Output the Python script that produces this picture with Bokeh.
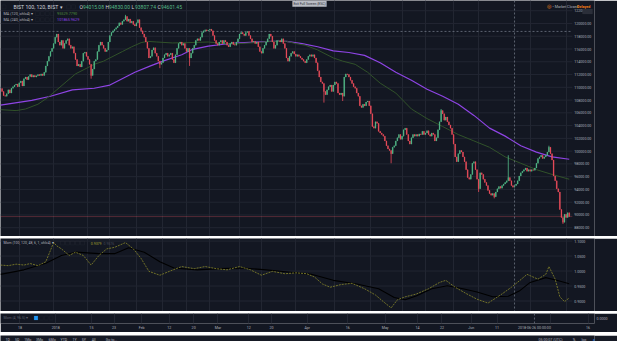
import numpy as np
from bokeh.plotting import figure
from bokeh.layouts import column
from bokeh.models import (ColumnDataSource, Range1d, FixedTicker, Span, Label, Grid,
                          BoxAnnotation, LinearAxis, NumeralTickFormatter)
from bokeh.core.properties import value
from bokeh.embed import file_html
from bokeh.resources import INLINE

# ---------------- data ----------------
first_open = 109800
closes = [
    109350, 108700, 108600, 109000, 109600, 109100, 109850, 110100, 110350, 110500,
    110100, 110700, 111000, 110200, 111350, 111600, 111200, 111700, 112000, 111600,
    111850, 111600, 111800, 112000, 111850, 112100, 111850, 112350, 113350, 114100,
    114850, 115600, 116100, 116850, 117850, 118350, 117100, 116600, 117350, 116100,
    116850, 117350, 117600, 116600, 116100, 116350, 115350, 114350, 113350, 113600,
    113200, 114100, 115350, 115500, 114850, 114350, 113600, 111850, 112850, 114100,
    114350, 115600, 116600, 117100, 116600, 116100, 115600, 115850, 117100, 118100,
    118600, 118850, 119100, 119350, 119600, 120100, 119850, 120350, 120600, 121100,
    120350, 120700, 120100, 120350, 119850, 119600, 120100, 120600, 119350, 118850,
    118350, 117850, 117100, 116100, 114600, 114850, 115850, 116200, 115350, 114850,
    114100, 113600, 113850, 114600, 115100, 115350, 114850, 115100, 115350, 114350,
    113850, 115100, 116100, 116850, 117100, 116600, 116850, 116100, 115600, 116100,
    114600, 115350,
    116100, 116600, 117350, 117600, 117350, 117850, 118600, 118850, 119000, 118850,
    118950, 119100, 118850, 118100, 117350, 116850, 116600, 117100, 117350, 116850,
    117350, 117100, 116600, 116350, 116850, 117100, 116700, 116600, 117100, 117600,
    118350, 118600, 118350, 118100, 118600, 118750, 118100, 117600, 117100, 117200,
    116850, 117100, 116350, 115600, 115350, 116100, 116600, 117100, 117600, 118350,
    118000, 117100, 116100, 116600, 117350, 117350, 117100, 117600, 116850, 116100,
    114600, 114100, 114850, 115350, 115600, 115200, 114850, 115100, 114850, 114600,
    114350, 114100, 113850, 114350, 114850, 115100, 114850, 115100, 114600, 113850,
    112600, 111600, 110850, 110600, 109350, 108850, 109600, 110100, 110350, 109350,
    110350, 110850, 110600, 109100, 108850, 109100, 108600, 111600, 112100, 112000,
    111600, 111100, 110600, 110100, 109850, 109100, 108600, 107100, 106850, 107350,
    107100, 107700, 107850, 107100, 105850, 103850, 103600, 104600, 104350, 103100,
    102850, 102600, 102350, 101600, 100850, 100350, 100100, 99600, 100600, 100850,
    101600, 102100, 102600, 101850, 102350, 103350, 103600, 102600, 101600, 101100,
    102100, 102600, 102350, 102600, 102350, 102700, 102600, 103100, 102600, 102850,
    103200, 102600, 102350, 102850, 102600, 101600, 102100, 103350, 104600, 106350,
    105850, 104850, 105350, 104600, 104100, 103600, 102600, 101100, 99100, 98350,
    99600, 100100, 99850, 99100, 98350, 97100, 95850, 95600, 96350, 98100,
    98350, 97100, 95600, 94100, 96600, 96350, 95600, 95100, 94600, 93850,
    93350, 93100, 93350, 92850, 93600, 94100, 94450, 94200, 94600, 94850,
    95100, 95350, 95850, 95350, 94600, 94350, 94600, 94850, 95350, 96100,
    96600, 96850, 97100, 97350, 96850, 97100, 96850, 97100, 97000, 97350,
    98100, 98850, 99100, 99350, 98850, 99100, 99350, 99850, 100600, 99600,
    98600, 96100, 95350, 94100, 93600, 90850, 89600, 88850, 90100, 89600,
    90350, 89744.01,
]
low_spike_idx = [58, 102, 121, 207, 219, 250, 306, 316, 360]
low_spike_val = [111350, 113000, 113350, 107600, 107850, 98100, 93600, 92600, 88600]
high_spike_idx = [80, 282, 325, 351]
high_spike_val = [121350, 106600, 99350, 100850]

ma120_idx = [0, 10, 16, 24, 30, 36, 42, 48, 54, 60, 66, 72, 78, 84, 90, 94, 100, 110, 120,
             133, 143, 153, 163, 173, 183, 189, 195, 203, 213, 219, 227, 235, 243, 253, 263,
             273, 283, 293, 303, 313, 323, 333, 343, 353, 364]
ma120_val = [106500, 106350, 106600, 107350, 108350, 109600, 110850, 112100, 112850, 113600,
             114100, 114850, 115600, 116350, 117000, 117200, 117100, 116950, 117000, 117100,
             116850, 116850, 117000, 117200, 117200, 116850, 116600, 115850, 114600, 114100,
             113600, 112350, 110650, 109100, 106600, 105100, 103850, 102600, 101600, 100600,
             99100, 98100, 97100, 96350, 95594.91]
ma240_idx = [0, 20, 32, 46, 60, 70, 76, 86, 96, 104, 116, 123, 133, 143, 153, 163, 173, 183,
             193, 203, 213, 223, 233, 243, 253, 263, 273, 283, 293, 303, 313, 323, 333, 343,
             353, 364]
ma240_val = [107200, 107950, 108600, 109600, 109850, 110350, 111100, 112350, 113350, 114100,
             115100, 115950, 116450, 116750, 116950, 117100, 117200, 117200, 116850, 116350,
             115700, 115450, 115000, 113850, 112350, 111100, 109700, 108600, 107350, 105600,
             103600, 102350, 100850, 99850, 99100, 98728.97]

mom_idx = [0, 5, 10, 15, 19, 24, 29, 34, 36, 39, 44, 48, 53, 58, 63, 68, 73, 80, 85, 90,
           95, 102, 109, 116, 124, 131, 138, 145, 153, 160, 167, 174, 182, 189, 196, 201,
           206, 211, 218, 225, 233, 240, 245, 250, 254, 259, 266, 274, 281, 285, 291, 298,
           305, 312, 320, 327, 332, 337, 344, 349, 351, 355, 358, 361, 364]
mom_val = [1.020, 1.018, 1.023, 1.020, 1.025, 1.018, 1.031, 1.095, 1.084, 1.074,
           1.052, 1.063, 1.052, 1.020, 1.052, 1.074, 1.079, 1.095, 1.074, 1.042,
           0.999, 0.986, 1.001, 1.015, 1.008, 1.015, 1.008, 1.004, 1.015, 1.004,
           0.986, 0.999, 0.991, 0.994, 0.991, 0.980, 0.957, 0.946, 0.955, 0.959,
           0.941, 0.920, 0.898, 0.877, 0.904, 0.914, 0.923, 0.941, 0.962, 0.969,
           0.946, 0.925, 0.906, 0.893, 0.920, 0.946, 0.967, 0.989, 0.973, 0.989,
           1.015, 0.973, 0.914, 0.898, 0.9103]
sig_idx = [0, 15, 29, 39, 48, 63, 73, 82, 92, 102, 111, 126, 140, 155, 170, 184, 199, 213,
           228, 242, 252, 259, 266, 276, 286, 296, 305, 315, 325, 332, 339, 349, 356, 364]
sig_val = [0.989, 1.004, 1.026, 1.052, 1.063, 1.058, 1.058, 1.078, 1.063, 1.031,
           1.010, 1.004, 1.008, 1.010, 1.004, 0.997, 0.989, 0.969, 0.957, 0.941,
           0.912, 0.904, 0.917, 0.941, 0.951, 0.941, 0.930, 0.914, 0.916, 0.933,
           0.962, 0.978, 0.969, 0.9576]

price_ticks = list(range(88000, 122001, 2000))
mom_ticks = [0.90, 0.95, 1.00, 1.05, 1.10]
small_ticks = [0.0]
date_tick_idx = [12, 34, 56, 70, 87, 104, 119, 134, 153, 167, 189, 214, 237, 257, 272, 290,
                 306, 339, 362]
date_tick_labels = ["18", "2018", "15", "23", "Feb", "12", "20", "Mar", "12", "20", "Apr",
                    "16", "May", "14", "22", "Jun", "11", "Jul", "16"]
crosshair_idx = 329
crosshair_price = 118753.80
crosshair_date = "2018-06-26 00:00:00"
ohlc_letters = ["O", "H", "L", "C"]
ohlc_values = ["94015.08", "94830.00", "93807.74", "94601.45"]
ma120_legend = "95529.7790"
ma240_legend = "101865.9629"
mom_legend = ["0.9379", "0.9576"]

# ---------------- style ----------------
BG = "#131722"
GRIDC = "#222632"
SEPC = "#2c303c"
TXT = "#aeb1ba"
UP = "#53b987"
DN = "#eb4d5c"
MA120C = "#31522a"
MA240C = "#8e44e4"
MOMC = "#727229"
CROSS = "#6f7584"
FONT = "Roboto"

W = 617          # whole width
FW = 594         # width of the plotting area (price scale sits to its right)
XMAX = 366       # bar index at the right edge of the plotting area
XR = XMAX * W / FW
xr = Range1d(0, XR)
PX = XMAX / FW   # one screen pixel in bar-index units


def make_fig(h, yr):
    p = figure(width=W, height=h, x_range=xr, y_range=yr,
               output_backend="svg", toolbar_location=None,
               x_axis_location=None, y_axis_location=None, min_border=0,
               background_fill_color=BG, border_fill_color=BG, outline_line_color=None)
    p.center = [r for r in p.center if not isinstance(r, Grid)]
    p.add_layout(Grid(dimension=0, ticker=FixedTicker(ticks=date_tick_idx),
                      grid_line_color=GRIDC, grid_line_width=1))
    return p


def price_scale(p, ticks, labels):
    p.segment(x0=0, x1=XMAX, y0=ticks, y1=ticks, line_color=GRIDC, line_width=1)
    p.text(x=[XMAX + 2 * PX] * len(ticks), y=ticks, text=labels,
           text_font=value(FONT), text_font_size=value("3.6px"), text_color=TXT,
           text_align="left", text_baseline="middle")


def lab(p, x, y, text, size, color, align="left", baseline="middle", bg=None,
        xu="screen", yu="screen", pad=1, style="normal"):
    kw = dict(x=x, y=y, x_units=xu, y_units=yu, text=text, text_font=FONT,
              text_font_size=f"{size}px", text_color=color, text_align=align,
              text_baseline=baseline, text_font_style=style)
    if bg is not None:
        kw.update(background_fill_color=bg, padding=int(pad))
    p.add_layout(Label(**kw))


def box(p, x0, x1, top, bottom, fill=None, line="#3a3e4a"):
    p.add_layout(BoxAnnotation(left=x0, right=x1, top=top, bottom=bottom,
                               left_units="screen", right_units="screen",
                               top_units="screen", bottom_units="screen",
                               fill_color=fill if fill else BG, fill_alpha=1 if fill else 0,
                               line_color=line, line_width=0.6, level="overlay"))


def strip(h, color):
    s = figure(width=W, height=h, output_backend="svg", toolbar_location=None,
               x_axis_location=None, y_axis_location=None, min_border=0,
               background_fill_color=color, border_fill_color=color, outline_line_color=None,
               x_range=Range1d(0, W), y_range=Range1d(0, h))
    s.grid.visible = False
    s.line([0, 1], [0, 0], line_alpha=0)
    return s


def cross_v(p):
    p.add_layout(Span(location=crosshair_idx, dimension="height", line_color=CROSS,
                      line_dash="2 2", line_width=0.8))

# ---------------- price panel ----------------
PH = 236
pp = make_fig(PH, Range1d(86625, 123600))
price_scale(pp, price_ticks, [f"{t:.2f}" for t in price_ticks])

n = len(closes)
idx = np.arange(1, n + 1)
opens = [first_open] + closes[:-1]
highs = [max(o, c) for o, c in zip(opens, closes)]
lows = [min(o, c) for o, c in zip(opens, closes)]
for i, v in zip(low_spike_idx, low_spike_val):
    lows[i - 1] = min(lows[i - 1], v)
for i, v in zip(high_spike_idx, high_spike_val):
    highs[i - 1] = max(highs[i - 1], v)
colors = [UP if c >= o else DN for o, c in zip(opens, closes)]
src = ColumnDataSource(dict(idx=idx, high=highs, low=lows,
                            top=[max(o, c) for o, c in zip(opens, closes)],
                            bottom=[min(o, c) for o, c in zip(opens, closes)],
                            color=colors))

pp.segment(x0=0, x1=XMAX, y0=closes[-1], y1=closes[-1], line_color="#e04f5f",
           line_alpha=0.4, line_width=0.8)
pp.segment(x0=0, x1=XMAX, y0=crosshair_price, y1=crosshair_price, line_color=CROSS,
           line_dash="2 2", line_width=0.8)
pp.line(ma240_idx, ma240_val, line_color=MA240C, line_width=1.2)
pp.line(ma120_idx, ma120_val, line_color=MA120C, line_width=1.0)
pp.segment(x0="idx", y0="high", x1="idx", y1="low", line_color="color", line_width=0.8,
           source=src)
pp.vbar(x="idx", width=0.55, top="top", bottom="bottom", fill_color="color",
        line_color="color", line_width=0.3, source=src)
cross_v(pp)

# legends
ty = PH - 6.4
box(pp, 1.5, 5.5, ty + 2, ty - 2)
lab(pp, 12.9, ty, "BIST 100, 120, BIST \u25be", 5.2, "#d1d4dc")
box(pp, 66.2, 70.1, ty + 2, ty - 2)
box(pp, 71.1, 75.0, ty + 2, ty - 2)
for g, (L, V) in enumerate(zip(ohlc_letters, ohlc_values)):
    gx = 78.9 + g * 26.0
    lab(pp, gx, ty, L, 5.0, "#d1d4dc")
    lab(pp, gx + 3.6, ty, V, 5.0, UP)
for row, (name, val, col) in enumerate([("MA (120, ohlc4) \u25be", ma120_legend, "#4e8a3c"),
                                         ("MA (240, ohlc4) \u25be", ma240_legend, MA240C)]):
    ry = PH - 13.1 - row * 6.1
    lab(pp, 2.9, ry, name, 3.8, TXT)
    for k in range(4):
        box(pp, 35.1 + k * 4.9, 38.9 + k * 4.9, ry + 1.9, ry - 1.9)
    lab(pp, 56.5, ry, val, 3.8, col)

lab(pp, 309, PH - 0.3, "Exit Full Screen (ESC)", 3.4, "#2a2e39", align="center",
    baseline="top", bg="#b9bcc4", pad=1)
lab(pp, 548, ty, "\u25ce", 4.6, "#f57f17", align="center")
lab(pp, 552, ty, "\u2022 Market Closed", 3.7, TXT)
lab(pp, 576.6, ty, "Delayed", 3.7, "#f57f17", style="bold")
box(pp, 582, 592, PH - 8.6, PH - 13.4, fill="#2a2e39", line="#3a3e4a")

# value tags on the price scale
lab(pp, FW + 1, crosshair_price, f"{crosshair_price:.2f}", 3.6, "#131722", yu="data",
    bg="#c9ccd4")
lab(pp, FW + 1, ma240_val[-1], f"{ma240_val[-1]:.2f}", 3.6, "#ffffff", yu="data", bg=MA240C)
lab(pp, FW + 1, ma120_val[-1], f"{ma120_val[-1]:.2f}", 3.6, "#d8e0d0", yu="data", bg="#2f5a20")
lab(pp, FW + 1, closes[-1], f"{closes[-1]:.2f}", 3.6, "#ffffff", yu="data", bg="#e04f5f")

# ---------------- momentum panel ----------------
MH = 73
pm = make_fig(MH, Range1d(0.865, 1.1086))
price_scale(pm, mom_ticks, [f"{t:.4f}" for t in mom_ticks])
pm.line(sig_idx, sig_val, line_color="#000000", line_width=1.1)
pm.line(mom_idx, mom_val, line_color=MOMC, line_width=1, line_dash="2 1")
cross_v(pm)
my = MH - 4.5
lab(pm, 2.9, my, "Mom (100, 120, 48, 6, 1, ohlc4) \u25be", 3.5, TXT)
for k in range(5):
    box(pm, 60 + k * 5, 64 + k * 5, my + 1.9, my - 1.9)
lab(pm, 90.3, my, mom_legend[0], 3.5, "#a8a832")
lab(pm, 103, my, mom_legend[1], 3.5, "#474b57")
lab(pm, FW + 1, sig_val[-1], f"{sig_val[-1]:.4f}", 3.6, "#ffffff", yu="data", bg="#000000")
lab(pm, FW + 1, mom_val[-1], f"{mom_val[-1]:.4f}", 3.6, "#131722", yu="data", bg="#b5b53a")

# ---------------- small panel with the time scale ----------------
SH = 10
ps = figure(frame_width=FW, frame_height=SH, x_range=Range1d(0, XMAX), y_range=Range1d(-1, 1),
            output_backend="svg", toolbar_location=None, x_axis_location=None,
            y_axis_location=None, min_border_left=0, min_border_top=0,
            min_border_right=W - FW, min_border_bottom=8,
            background_fill_color=BG, border_fill_color=BG, outline_line_color=None)
ps.center = [r for r in ps.center if not isinstance(r, Grid)]
ps.add_layout(Grid(dimension=0, ticker=FixedTicker(ticks=date_tick_idx),
                   grid_line_color=GRIDC, grid_line_width=1))
ps.add_layout(LinearAxis(ticker=FixedTicker(ticks=small_ticks),
                         formatter=NumeralTickFormatter(format="0.0000"),
                         axis_line_color=None, major_tick_line_color=None, major_tick_out=0,
                         major_tick_in=0, minor_tick_line_color=None, minor_tick_out=0,
                         major_label_text_font=FONT, major_label_text_font_size="3.6px",
                         major_label_text_color=TXT, major_label_standoff=2), "right")
axis_ticks = [t for t in date_tick_idx if abs(t - crosshair_idx) > 12] + [crosshair_idx]
overrides = {t: l for t, l in zip(date_tick_idx, date_tick_labels)}
overrides[crosshair_idx] = crosshair_date
ps.add_layout(LinearAxis(ticker=FixedTicker(ticks=axis_ticks),
                         major_label_overrides=overrides,
                         axis_line_color=None, major_tick_line_color=None, major_tick_out=0,
                         major_tick_in=0, minor_tick_line_color=None, minor_tick_out=0,
                         major_label_text_font=FONT, major_label_text_font_size="3.6px",
                         major_label_text_color=TXT, major_label_standoff=2), "below")
cross_v(ps)
sy = SH - 4.5
lab(ps, 2.9, sy, "Mom (4, 96.5) \u25be", 3.5, "#5d616d")
box(ps, 33.6, 37.4, sy + 1.9, sy - 1.9, fill="#2196f3", line="#2196f3")
for k in range(3):
    box(ps, 39 + k * 4.9, 42.8 + k * 4.9, sy + 1.9, sy - 1.9)

# ---------------- bottom toolbar ----------------
pt = strip(9, "#161a25")
for x, t in zip([7.1, 16.6, 27.3, 39.0, 51.6, 63.3, 74.0, 83.4, 93.2, 111.0],
                ["1D", "5D", "1Mo", "3Mo", "6Mo", "YTD", "1Y", "5Y", "All", "Go to..."]):
    lab(pt, x, 4.5, t, 3.6, TXT, align="center")
lab(pt, 550, 4.5, "05:00:07 (UTC)", 3.6, TXT, align="center")
lab(pt, 573.6, 4.5, "%", 3.6, TXT, align="center")
lab(pt, 583.4, 4.5, "log", 3.6, TXT, align="center")
lab(pt, 596.0, 4.5, "auto", 3.6, "#2196f3", align="center")
lab(pt, 606.8, 4.5, "\u2699", 4.6, TXT, align="center")

layout = column(pp, strip(2, SEPC), pm, strip(2, SEPC), ps, pt, spacing=0)
open("out.html", "w").write(file_html(layout, INLINE))
